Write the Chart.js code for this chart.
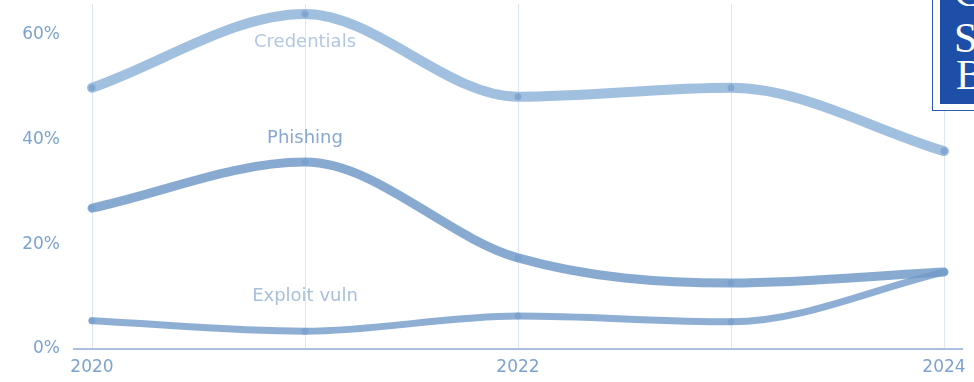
<!DOCTYPE html>
<html>
<head>
<meta charset="utf-8">
<script src="https://cdn.jsdelivr.net/npm/chart.js@4"></script>
<style>
html,body{margin:0;padding:0;background:#fff;}
#wrap{position:relative;width:974px;height:382px;overflow:hidden;}
#logo{position:absolute;left:932px;top:-10px;width:60px;height:121px;border:1.5px solid #2a5bb5;background:#fff;box-sizing:border-box;}
#logo .in{position:absolute;left:6.5px;top:0;right:0;bottom:6px;background:#1e4fa8;}
.lt{position:absolute;color:#fff;font-family:"Liberation Serif","DejaVu Serif",serif;font-size:42px;line-height:37px;}
</style>
</head>
<body>
<div id="wrap">
<canvas id="c" width="974" height="382"></canvas>
<div id="logo"><div class="in"></div></div>
<div class="lt" style="left:954px;top:-26px">C</div>
<div class="lt" style="left:954px;top:20px">S</div>
<div class="lt" style="left:956px;top:57px">B</div>
</div>
<script>
const years = [2020, 2021, 2022, 2023, 2024];
const credentials = [49.9, 64.0, 48.2, 49.9, 37.8];
const phishing = [26.9, 35.7, 17.4, 12.6, 14.7];
const exploitVuln = [5.4, 3.4, 6.3, 5.2, 14.7];
const seriesNames = ['Credentials', 'Phishing', 'Exploit vuln'];
const yTicks = [0, 20, 40, 60];
const xTickLabels = [2020, 2022, 2024];
// label anchors in data units (year, percent)
const labelAnchors = [[2021, 58.5], [2021, 40.3], [2021, 10.1]];
const labelColors = ['#b2c7e1', '#86a8d1', '#a8bfdc'];

const FONT = '"DejaVu Sans", Verdana, sans-serif';
const toPts = arr => arr.map((v, i) => ({x: years[i], y: v}));
const mk = (name, arr, color, w) => ({
  label: name, data: toPts(arr), borderColor: color, backgroundColor: color,
  borderWidth: w, pointRadius: 3.5, pointBorderWidth: 0, pointBackgroundColor: 'rgba(120,160,205,0.75)',
  cubicInterpolationMode: 'monotone', fill: false, borderCapStyle: 'round', clip: false
});

const extras = {
  id: 'extras',
  beforeDatasetsDraw(chart) {
    const {ctx, chartArea, scales} = chart;
    const y0 = scales.y.getPixelForValue(0);
    ctx.save();
    ctx.strokeStyle = '#a9c1de';
    ctx.lineWidth = 2;
    ctx.beginPath();
    ctx.moveTo(chartArea.left - 19, y0);
    ctx.lineTo(chartArea.right + 19, y0);
    ctx.stroke();
    // y tick labels
    ctx.fillStyle = '#7ca3cf';
    ctx.font = '17px ' + FONT;
    ctx.textAlign = 'right';
    ctx.textBaseline = 'middle';
    yTicks.forEach(v => ctx.fillText(v + '%', 60, scales.y.getPixelForValue(v)));
    ctx.restore();
  },
  afterDatasetsDraw(chart) {
    const {ctx, scales} = chart;
    ctx.save();
    ctx.font = '18px ' + FONT;
    ctx.textAlign = 'center';
    ctx.textBaseline = 'middle';
    seriesNames.forEach((n, i) => {
      const [xv, yv] = labelAnchors[i];
      ctx.fillStyle = labelColors[i];
      ctx.fillText(n, scales.x.getPixelForValue(xv), scales.y.getPixelForValue(yv));
    });
    ctx.restore();
  }
};

new Chart(document.getElementById('c'), {
  type: 'line',
  data: {
    datasets: [
      mk(seriesNames[0], credentials, 'rgba(145,180,216,0.85)', 10),
      mk(seriesNames[1], phishing, 'rgba(115,155,200,0.85)', 9),
      mk(seriesNames[2], exploitVuln, 'rgba(122,160,204,0.85)', 7)
    ]
  },
  options: {
    responsive: false,
    animation: false,
    layout: {padding: {left: 0, right: 30, top: 0, bottom: 0}},
    plugins: {legend: {display: false}, tooltip: {enabled: false}},
    scales: {
      x: {
        type: 'linear', min: 2020, max: 2024,
        border: {display: false},
        grid: {color: '#dde7f2', lineWidth: 1, drawTicks: false},
        afterBuildTicks: s => { s.ticks = years.map(v => ({value: v})); },
        afterFit: s => { s.height = 33; },
        ticks: {
          autoSkip: false, maxRotation: 0, padding: 8, color: '#7ca3cf',
          font: {family: FONT, size: 17},
          callback: v => xTickLabels.includes(v) ? String(v) : ''
        }
      },
      y: {
        min: 0, max: 65.9,
        border: {display: false},
        grid: {display: false, drawTicks: false},
        afterBuildTicks: s => { s.ticks = yTicks.map(v => ({value: v})); },
        afterFit: s => { s.width = 92; },
        ticks: {display: false}
      }
    }
  },
  plugins: [extras]
});
</script>
</body>
</html>
